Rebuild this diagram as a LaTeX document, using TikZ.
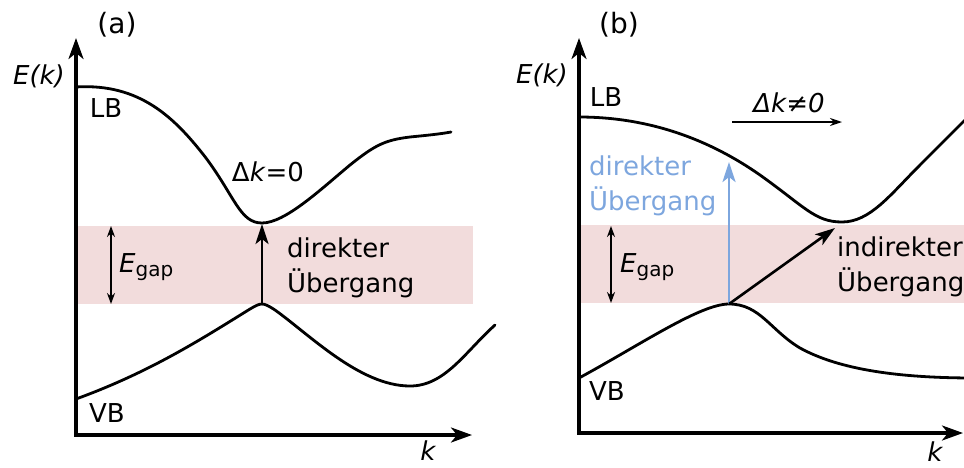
\documentclass[tikz,border=0pt]{standalone}
\usepackage{fontspec}
\setmainfont{DejaVu Sans}
\usepackage{xcolor}
\usepackage{tikz}
\usetikzlibrary{arrows.meta}
\definecolor{gappink}{RGB}{242,220,220}
\definecolor{trblue}{RGB}{125,166,222}

\tikzset{
  axis/.style={line width=3.2pt,line join=miter,
    {Stealth[length=21pt,width=15pt,inset=6pt]}-{Stealth[length=21pt,width=15pt,inset=6pt]}},
  bandline/.style={line width=2.8pt,line cap=round},
  gaparrow/.style={line width=1.8pt,
    {Stealth[length=11pt,width=8pt]}-{Stealth[length=11pt,width=8pt]}},
  trans/.style={line width=2.6pt,-{Stealth[length=20pt,width=13pt,inset=5pt]}},
  lbl/.style={inner sep=0pt},
  panel/.style={inner sep=0pt,font=\fontsize{28}{30}\selectfont},
}

\begin{document}
\begin{tikzpicture}[x=1pt,y=-1pt,font=\fontsize{26}{35}\selectfont]
  \useasboundingbox (0,0) rectangle (964,467);

  % (a) direct gap
  \fill[gappink] (76,226) rectangle (473,304);
  \coordinate (yA) at (76,38);
  \coordinate (oA) at (76,435);
  \coordinate (xA) at (472,435);
  \draw[axis] (yA) -- (oA) -- (xA);
  \draw[bandline] (76,87) .. controls (140,83) and (175,118) .. (206,158)
    .. controls (235,197) and (240,223) .. (262,223)
    .. controls (285,223) and (320,190) .. (350,165)
    .. controls (375,145) and (385,140) .. (410,137)
    .. controls (430,135) and (440,134) .. (451,132);
  \draw[bandline] (76,399) .. controls (150,372) and (200,340) .. (250,309)
    .. controls (256,305.5) and (259,304) .. (262,304)
    .. controls (265,304) and (269,306) .. (275,310)
    .. controls (310,335) and (360,386) .. (410,386)
    .. controls (445,386) and (465,352) .. (495,325);
  \coordinate (cbmA) at (262,224);
  \coordinate (vbmA) at (262,304);
  \coordinate (gtA) at (111,226);
  \coordinate (gbA) at (111,304);
  \draw[trans] (vbmA) -- (cbmA);
  \draw[gaparrow] (gbA) -- (gtA);
  \node[panel] (labA) at (117,25) {(a)};
  \node[lbl] (eA) at (39,76) {\itshape E(k)};
  \node[lbl] (lbA) at (106,108) {LB};
  \node[lbl] (vbA) at (107,413) {VB};
  \node[lbl] (kA) at (428,451) {\itshape k};
  \node[lbl] (dkA) at (268,172) {Δ\textit{k}=0};
  \node[lbl,anchor=west] (egA) at (119,267)
    {\itshape E\upshape\raisebox{-4pt}{\fontsize{20}{20}\selectfont gap}};
  \node[lbl,anchor=west,align=left] (dirA) at (287,267.5) {direkter\\Übergang};

  % (b) indirect gap
  \fill[gappink] (579,225) rectangle (964,303);
  \coordinate (yB) at (579,38);
  \coordinate (oB) at (579,433);
  \coordinate (xB) at (963,433);
  \draw[axis] (yB) -- (oB) -- (xB);
  \draw[bandline] (579,117) .. controls (650,117) and (710,140) .. (760,175)
    .. controls (805,207) and (815,222) .. (842,222)
    .. controls (870,222) and (890,195) .. (920,165)
    .. controls (940,145) and (955,130) .. (975,110);
  \draw[bandline] (579,378) .. controls (640,345) and (700,304) .. (729,304)
    .. controls (760,304) and (770,330) .. (800,348)
    .. controls (840,370) and (900,378) .. (975,378);
  \coordinate (vbmB) at (729,304);
  \coordinate (hiB) at (729,162);
  \coordinate (cbmB) at (835,228);
  \coordinate (gtB) at (611,226);
  \coordinate (gbB) at (611,303);
  \coordinate (dkl) at (732,122);
  \coordinate (dkr) at (842,122);
  \draw[trans,trblue] (vbmB) -- (hiB);
  \draw[trans] (vbmB) -- (cbmB);
  \draw[gaparrow] (gbB) -- (gtB);
  \draw[line width=1.8pt,-{Stealth[length=12pt,width=8pt]}] (dkl) -- (dkr);
  \node[panel] (labB) at (619,25) {(b)};
  \node[lbl] (eB) at (542,75) {\itshape E(k)};
  \node[lbl] (lbB) at (606,97) {LB};
  \node[lbl] (vbB) at (607,391) {VB};
  \node[lbl] (kB) at (935,452) {\itshape k};
  \node[lbl] (dkB) at (789,103) {\itshape Δk≠0};
  \node[lbl,anchor=west] (egB) at (620,267)
    {\itshape E\upshape\raisebox{-4pt}{\fontsize{20}{20}\selectfont gap}};
  \node[lbl,anchor=west,align=left,text=trblue] (dirB) at (589,185.5) {direkter\\Übergang};
  \node[lbl,anchor=west,align=left] (indB) at (837,266.5) {indirekter\\Übergang};
\end{tikzpicture}
\end{document}
